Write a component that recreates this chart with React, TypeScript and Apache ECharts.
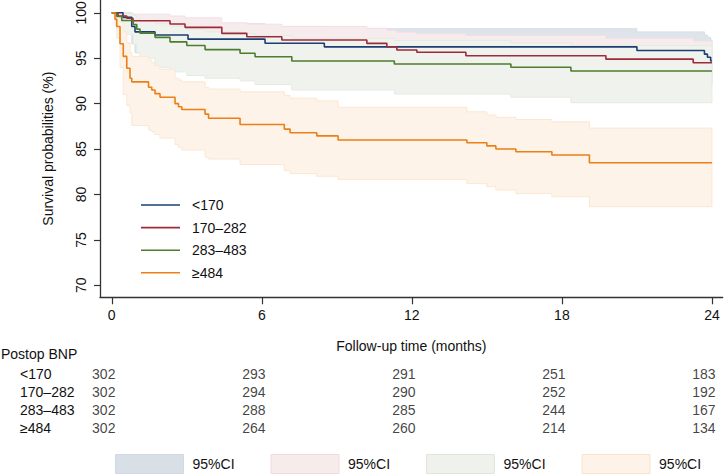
import React, { useEffect, useRef } from "react";
import * as echarts from "echarts";

const FONT = "'Liberation Sans', Arial, Helvetica, sans-serif";
const TXT = "#111111";
const AX = "#333333";

const groups = ["<170", "170–282", "283–483", "≥484"];
const lineColors = ["#1d3e72", "#9e2a3a", "#4e7c2d", "#ec7f16"];
const bandFills = ["#dfe4eb", "#f6ebed", "#f0f3ed", "#fdf3e8"];
const bandStrokes = ["#d8dee7", "#f2e0e3", "#e6ebe2", "#fbe7d3"];
const legendBoxFills = ["#d9dfe7", "#f7ecec", "#eff2ec", "#fdf3e8"];
const legendBoxBorders = ["#d3d9e2", "#f1d9dc", "#e1e6da", "#fbe2c8"];

// <170
const tB = [0, 0.45, 0.8, 0.93, 1.73, 3.05, 6.13, 8.5, 21.0, 23.7, 23.82, 23.95, 24];
const sB = [100, 99.5, 98.5, 97.9, 97.55, 97.1, 96.65, 96.25, 95.85, 95.45, 95.1, 94.7, 94.7];
const hiB = [100, 100, 99.6, 99.3, 99.1, 98.8, 98.5, 98.25, 97.9, 97.55, 97.3, 97.0, 97.0];
const loB = [100, 98.4, 96.6, 95.6, 95.5, 95.1, 94.6, 94.1, 93.6, 93.1, 92.7, 92.3, 92.3];

// 170–282
const tR = [0, 0.25, 0.6, 0.85, 2.33, 2.93, 4.4, 5.4, 6.8, 10.2, 11.0, 11.4, 12.2, 14.16, 19.76, 23.25, 24];
const sR = [100, 99.65, 99.4, 99.13, 98.77, 98.4, 97.74, 97.37, 97.0, 96.64, 96.27, 95.9, 95.65, 95.28, 94.9, 94.5, 94.5];
const hiR = [100, 100, 99.95, 99.85, 99.65, 99.45, 98.9, 98.75, 98.5, 98.3, 98.05, 97.85, 97.7, 97.5, 97.2, 96.9, 96.9];
const loR = [100, 99.0, 98.6, 98.2, 97.7, 97.2, 96.3, 95.8, 95.3, 94.8, 94.35, 93.9, 93.6, 93.2, 92.7, 92.1, 92.1];

// 283–483
const tG = [0, 0.2, 0.4, 0.86, 1.0, 1.13, 1.73, 2.33, 3.0, 3.73, 5.13, 5.73, 7.2, 11.3, 15.96, 18.36, 24];
const sG = [100, 99.6, 99.15, 98.7, 98.2, 97.75, 97.3, 96.8, 96.4, 95.95, 95.55, 95.17, 94.7, 94.36, 94.0, 93.6, 93.6];
const hiG = [100, 100, 99.9, 99.7, 99.4, 99.1, 98.8, 98.5, 98.2, 97.9, 97.7, 97.5, 97.2, 96.95, 96.7, 96.4, 96.4];
const loG = [100, 98.6, 97.6, 96.5, 95.6, 95.0, 94.0, 93.5, 93.1, 92.8, 92.5, 92.1, 91.5, 91.05, 90.7, 90.1, 90.1];

// ≥484
const tO = [0, 0.13, 0.2, 0.33, 0.46, 0.6, 0.73, 0.8, 1.47, 1.6, 1.73, 1.93, 2.53, 2.67, 2.8, 3.73, 3.87, 5.13, 6.9, 7.13, 8.2, 9.05, 14.2, 15.0, 15.36, 16.16, 17.6, 19.1, 24];
const sO = [100, 99.3, 98.5, 96.6, 95.2, 93.9, 92.8, 92.4, 91.8, 91.5, 91.1, 90.7, 90.0, 89.65, 89.35, 88.85, 88.4, 87.7, 87.2, 86.8, 86.45, 86.0, 85.7, 85.35, 85.0, 84.7, 84.35, 83.5, 83.5];
const hiO = [100, 100, 99.8, 99.0, 97.9, 96.7, 95.6, 95.2, 94.8, 94.5, 94.2, 93.8, 92.8, 92.6, 92.4, 91.8, 91.6, 91.3, 90.9, 90.6, 90.3, 89.6, 89.1, 88.75, 88.5, 88.25, 88.0, 87.3, 87.3];
const loO = [100, 98.6, 97.2, 94.0, 91.0, 89.8, 89.0, 87.6, 87.1, 86.9, 86.6, 86.2, 85.5, 85.2, 84.9, 84.1, 83.9, 83.3, 82.6, 82.3, 82.0, 81.66, 81.2, 80.85, 80.5, 80.1, 79.75, 78.65, 78.65];

const times = [tB, tR, tG, tO];
const survs = [sB, sR, sG, sO];
const uppers = [hiB, hiR, hiG, hiO];
const lowers = [loB, loR, loG, loO];

// numbers at risk
const riskTimes = [0, 6, 12, 18, 24];
const riskB = [302, 293, 291, 251, 183];
const riskR = [302, 294, 290, 252, 192];
const riskG = [302, 288, 285, 244, 167];
const riskO = [302, 264, 260, 214, 134];
const risks = [riskB, riskR, riskG, riskO];

const xTicks = [0, 6, 12, 18, 24];
const yTicks = [70, 75, 80, 85, 90, 95, 100];

const X_MIN = -0.47;
const X_MAX = 24.43;
const Y_MIN = 68.68;
const Y_MAX = 101.41;

function bandSeries(g: number) {
  const t = times[g];
  const lo = lowers[g];
  const hi = uppers[g];
  return {
    type: "custom",
    name: "ci" + g,
    xAxisIndex: 0,
    yAxisIndex: 0,
    z: 1,
    clip: true,
    silent: true,
    itemStyle: { color: legendBoxFills[g] },
    encode: { x: 0, y: [1, 2] },
    data: t.map((tt, i) => [tt, lo[i], hi[i]]),
    renderItem: (params: any, api: any) => {
      if (params.dataIndex !== 0) return null;
      const pts: number[][] = [];
      const n = t.length;
      for (let i = 0; i < n; i++) {
        const x1 = i < n - 1 ? t[i + 1] : t[i];
        pts.push(api.coord([t[i], hi[i]]));
        pts.push(api.coord([x1, hi[i]]));
      }
      for (let i = n - 1; i >= 0; i--) {
        const x1 = i < n - 1 ? t[i + 1] : t[i];
        pts.push(api.coord([x1, lo[i]]));
        pts.push(api.coord([t[i], lo[i]]));
      }
      return {
        type: "polygon",
        shape: { points: pts },
        style: { fill: bandFills[g], stroke: bandStrokes[g], lineWidth: 1 },
      };
    },
  };
}

function lineSeries(g: number) {
  return {
    type: "line",
    name: groups[g],
    xAxisIndex: 0,
    yAxisIndex: 0,
    z: 3,
    step: "end",
    symbol: "none",
    silent: true,
    color: lineColors[g],
    lineStyle: { color: lineColors[g], width: 1.6 },
    data: times[g].map((tt, i) => [tt, survs[g][i]]),
  };
}

export default function App() {
  const ref = useRef<HTMLDivElement>(null);
  useEffect(() => {
    document.body.style.margin = "0";
    if (!ref.current) return;
    const chart = echarts.init(ref.current, null, { renderer: "svg" });

    const riskData: any[] = [];
    risks.forEach((row, g) => {
      row.forEach((v, j) => riskData.push([riskTimes[j], groups[g], v]));
    });

    const option: any = {
      animation: false,
      backgroundColor: "#ffffff",
      textStyle: { fontFamily: FONT },
      title: {
        text: "Postop BNP",
        left: 1,
        top: 347,
        padding: 0,
        textStyle: { fontSize: 14, fontWeight: "normal", color: TXT, fontFamily: FONT },
      },
      grid: [
        { left: 100, right: 4.3, top: 0, bottom: 178.7, outerBoundsMode: "none" },
        { left: 100, right: 4.3, top: 364.5, height: 72, outerBoundsMode: "none" },
      ],
      legend: [
        {
          data: groups.map((name, g) => ({
            name,
            icon: "path://M0 0H39V1.6H0Z",
            itemStyle: { color: lineColors[g] },
          })),
          orient: "vertical",
          left: 141,
          top: 198,
          itemWidth: 39,
          itemHeight: 14,
          itemGap: 8.6,
          selectedMode: false,
          padding: 0,
          textStyle: { fontSize: 14, color: TXT, fontFamily: FONT, padding: [0, 0, 0, 7] },
        },
        {
          data: [0, 1, 2, 3].map((g) => ({
            name: "ci" + g,
            icon: "rect",
            itemStyle: { color: legendBoxFills[g], borderColor: legendBoxBorders[g], borderWidth: 1 },
          })),
          formatter: () => "95%CI",
          orient: "horizontal",
          left: 115,
          top: 454,
          itemWidth: 68,
          itemHeight: 19,
          itemGap: 36,
          selectedMode: false,
          padding: 0,
          textStyle: { fontSize: 14, color: TXT, fontFamily: FONT, padding: [0, 0, 0, 4] },
        },
      ],
      xAxis: [
        {
          type: "value",
          gridIndex: 0,
          min: X_MIN,
          max: X_MAX,
          name: "Follow-up time (months)",
          nameLocation: "middle",
          nameGap: 42,
          nameTextStyle: { fontSize: 14, color: TXT, fontFamily: FONT },
          axisLine: { show: true, onZero: false, lineStyle: { color: AX, width: 1.3 } },
          axisTick: { show: true, customValues: xTicks, length: 7, lineStyle: { color: AX, width: 1.2 } },
          axisLabel: { customValues: xTicks, fontSize: 14, color: TXT, margin: 11, fontFamily: FONT },
          splitLine: { show: false },
        },
        {
          type: "value",
          gridIndex: 1,
          min: X_MIN,
          max: X_MAX,
          show: false,
          splitLine: { show: false },
        },
      ],
      yAxis: [
        {
          type: "value",
          gridIndex: 0,
          min: Y_MIN,
          max: Y_MAX,
          name: "Survival probabilities (%)",
          nameLocation: "middle",
          nameGap: 45,
          nameTextStyle: { fontSize: 14, color: TXT, fontFamily: FONT },
          axisLine: { show: true, onZero: false, lineStyle: { color: AX, width: 1.3 } },
          axisTick: { show: true, customValues: yTicks, length: 6, lineStyle: { color: AX, width: 1.2 } },
          axisLabel: { customValues: yTicks, rotate: 90, fontSize: 14, color: TXT, margin: 12, fontFamily: FONT },
          splitLine: { show: false },
        },
        {
          type: "category",
          gridIndex: 1,
          data: groups,
          inverse: true,
          axisLine: { show: false },
          axisTick: { show: false },
          axisLabel: { interval: 0, hideOverlap: false, align: "left", margin: 80, fontSize: 14, color: TXT, fontFamily: FONT },
          splitLine: { show: false },
        },
      ],
      series: [
        bandSeries(0),
        bandSeries(1),
        bandSeries(2),
        bandSeries(3),
        lineSeries(0),
        lineSeries(1),
        lineSeries(2),
        lineSeries(3),
        {
          type: "scatter",
          name: "atrisk",
          xAxisIndex: 1,
          yAxisIndex: 1,
          symbolSize: 1,
          silent: true,
          itemStyle: { color: "rgba(0,0,0,0)" },
          data: riskData,
          label: {
            show: true,
            position: "inside",
            offset: [-8, 0],
            formatter: (p: any) => String(p.value[2]),
            fontSize: 14,
            color: TXT,
            fontFamily: FONT,
          },
        },
      ],
    };
    chart.setOption(option);
    return () => chart.dispose();
  }, []);
  return <div ref={ref} style={{ width: 727, height: 476 }} />;
}
